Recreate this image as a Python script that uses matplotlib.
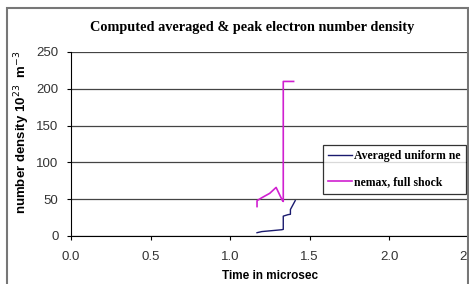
import matplotlib
matplotlib.use("Agg")
import matplotlib.pyplot as plt
from matplotlib.patches import Rectangle

# Averaged uniform ne
t_avg = [1.17, 1.20, 1.25, 1.30, 1.325, 1.335, 1.335, 1.365, 1.38, 1.38, 1.41]
ne_avg = [4.5, 6.0, 7.0, 8.0, 8.5, 9.0, 27.0, 29.0, 29.5, 36.0, 48.0]

# nemax, full shock
t_max = [1.17, 1.17, 1.20, 1.25, 1.29, 1.33, 1.335, 1.335, 1.40]
ne_max = [40.0, 48.0, 52.0, 58.0, 66.0, 48.0, 47.0, 210.0, 210.0]

x_ticks = [0.0, 0.5, 1.0, 1.5, 2.0, 2.5]
y_ticks = [0, 50, 100, 150, 200, 250]

fig = plt.figure(figsize=(4.69, 2.84), dpi=100)
ax = fig.add_axes([71 / 469, 48 / 284, 397.5 / 469, 184 / 284])

ax.plot(t_avg, ne_avg, color="#1a1a6e", linewidth=1.0, label="Averaged uniform ne")
ax.plot(t_max, ne_max, color="#d020d0", linewidth=1.2, label="nemax, full shock")

ax.set_xlim(0, 2.5)
ax.set_ylim(0, 250)
ax.set_xticks(x_ticks)
ax.set_xticklabels([f"{v:.1f}" for v in x_ticks], fontsize=9.5, color="#333333",
                   family="Liberation Sans")
ax.set_yticks(y_ticks)
ax.set_yticklabels([str(v) for v in y_ticks], fontsize=9.5, color="#333333",
                   family="Liberation Sans")
ax.tick_params(direction="out", length=3, width=0.8)
ax.tick_params(axis="x", pad=8)
ax.tick_params(axis="y", pad=6)

for s in ["top", "right"]:
    ax.spines[s].set_visible(False)
ax.spines["left"].set_linewidth(0.8)
ax.spines["bottom"].set_linewidth(0.8)
ax.grid(True, axis="y", color="#444444", linewidth=0.9)
ax.set_axisbelow(True)

ax.set_xlabel("Time in microsec", fontsize=8.5, fontweight="bold",
              family="Liberation Sans", labelpad=4.5)
ax.set_ylabel(r"number density 10$^{23}$  m$^{-3}$", fontsize=9.5,
              fontweight="bold", family="Liberation Sans")
ax.yaxis.set_label_coords(-0.098, 0.565)

fig.text(252 / 469, 1 - 28 / 284, "Computed averaged & peak electron number density",
         ha="center", va="center", fontsize=10.3, fontweight="bold",
         family="Liberation Serif")

leg = ax.legend(loc="upper left", bbox_to_anchor=(323 / 469, 1 - 145 / 284),
                bbox_transform=fig.transFigure, frameon=True, fancybox=False,
                prop={"family": "Liberation Serif", "weight": "bold", "size": 8.5},
                handlelength=2.0, handletextpad=0.2, labelspacing=1.2,
                borderpad=0.45, borderaxespad=0)
leg.get_frame().set_edgecolor("black")
leg.get_frame().set_linewidth(0.9)

# outer chart frame
fig.patches.append(Rectangle((7 / 469, -0.1), 461 / 469, 0.1 + 276 / 284,
                             transform=fig.transFigure, fill=False,
                             edgecolor="#777777", linewidth=1.5))

fig.savefig("out.png", dpi=100)
